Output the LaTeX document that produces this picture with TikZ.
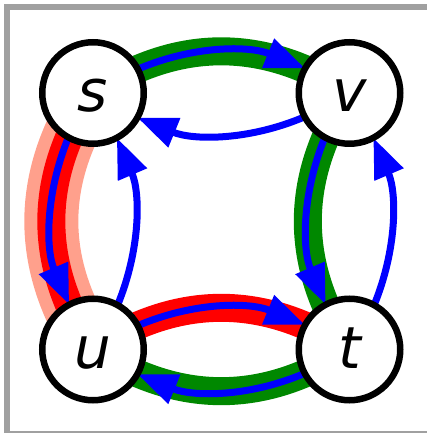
\documentclass[tikz,border=0pt]{standalone}
\usepackage{fontspec}
\setmainfont{DejaVu Sans}
\usetikzlibrary{arrows.meta,calc}
\definecolor{edgeblue}{RGB}{0,0,255}
\definecolor{pathgreen}{RGB}{0,136,0}
\definecolor{pathred}{RGB}{255,0,0}
\definecolor{pathsalmon}{RGB}{255,160,140}
\definecolor{framegray}{RGB}{160,160,160}
\pgfdeclarelayer{bg}
\pgfsetlayers{bg,main}
\begin{document}
\begin{tikzpicture}[x=1pt,y=1pt,
  vertex/.style={circle, draw=black, fill=white, line width=6.5pt,
    minimum size=101.5pt, inner sep=0pt, outer sep=0pt,
    font=\fontsize{58}{58}\selectfont\itshape, text height=38pt, text depth=0pt},
  flow/.style={draw=edgeblue, line width=7pt, -{Triangle[length=40pt,width=30pt]}},
  greenband/.style={draw=pathgreen, line width=28pt},
  redband/.style={draw=pathred, line width=28pt},
  salmonband/.style={draw=pathsalmon, line width=54pt},
  framebox/.style={draw=framegray, line width=6pt}]
\useasboundingbox (0,0) rectangle (427,433);

\node[vertex] (s) at (93,340) {s};
\node[vertex] (v) at (349.5,340) {v};
\node[vertex] (u) at (93,83.5) {u};
\node[vertex] (t) at (349.5,83.5) {t};

\begin{pgfonlayer}{bg}
  \draw[framebox] (7,-1) rectangle (432,426);
  % highlighted paths (underlays), centre to centre
  \draw[salmonband] (s.center) .. controls ($(s.center)+(-55.57,-85.5)$) and ($(s.center)+(-55.57,-171)$) .. (u.center);
  \draw[redband] (s.center) .. controls ($(s.center)+(-55.57,-85.5)$) and ($(s.center)+(-55.57,-171)$) .. (u.center);
  \draw[redband] (u.center) .. controls ($(u.center)+(85.5,55.57)$) and ($(u.center)+(171,55.57)$) .. (t.center);
  \draw[greenband] (s.center) .. controls ($(s.center)+(85.5,55.57)$) and ($(s.center)+(171,55.57)$) .. (v.center);
  \draw[greenband] (v.center) .. controls ($(v.center)+(-55.57,-85.5)$) and ($(v.center)+(-55.57,-171)$) .. (t.center);
  \draw[greenband] (t.center) .. controls ($(t.center)+(-85.5,-55.57)$) and ($(t.center)+(-171,-55.57)$) .. (u.center);
  % directed edges
  \draw[flow] (s.28.2) .. controls ($(s.center)+(100.41,47.57)$) and ($(s.center)+(156.09,47.57)$) .. (v.151.8);
  \draw[flow] (v.208.2) .. controls ($(v.center)+(-100.41,-47.57)$) and ($(v.center)+(-156.09,-47.57)$) .. (s.331.8);
  \draw[flow] (s.241.8) .. controls ($(s.center)+(-47.57,-100.41)$) and ($(s.center)+(-47.57,-156.09)$) .. (u.118.2);
  \draw[flow] (u.61.8) .. controls ($(u.center)+(47.57,100.41)$) and ($(u.center)+(47.57,156.09)$) .. (s.298.2);
  \draw[flow] (u.28.2) .. controls ($(u.center)+(100.41,47.57)$) and ($(u.center)+(156.09,47.57)$) .. (t.151.8);
  \draw[flow] (t.208.2) .. controls ($(t.center)+(-100.41,-47.57)$) and ($(t.center)+(-156.09,-47.57)$) .. (u.331.8);
  \draw[flow] (v.241.8) .. controls ($(v.center)+(-47.57,-100.41)$) and ($(v.center)+(-47.57,-156.09)$) .. (t.118.2);
  \draw[flow] (t.61.8) .. controls ($(t.center)+(47.57,100.41)$) and ($(t.center)+(47.57,156.09)$) .. (v.298.2);
\end{pgfonlayer}
\end{tikzpicture}
\end{document}
